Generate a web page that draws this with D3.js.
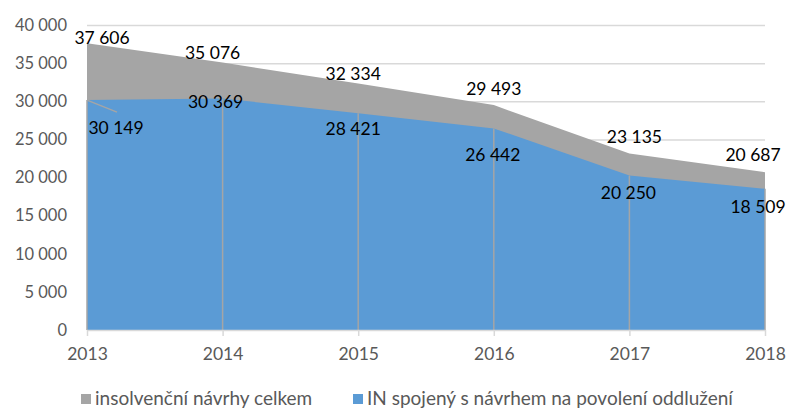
<!DOCTYPE html>
<html lang="cs">
<head>
<meta charset="utf-8">
<title>Insolvenční návrhy</title>
<script src="https://d3js.org/d3.v7.min.js"></script>
<style>
  body { margin: 0; background: #fff; }
  svg { display: block; font-family: Lato, "Open Sans", sans-serif; }
</style>
</head>
<body>
<div id="chart"></div>
<script>
// data
var years = ['2013', '2014', '2015', '2016', '2017', '2018'];
var celkem = [37606, 35076, 32334, 29493, 23135, 20687];
var oddluzeni = [30149, 30369, 28421, 26442, 20250, 18509];
var yTicks = [0, 5000, 10000, 15000, 20000, 25000, 30000, 35000, 40000];
var seriesNames = ['insolvenční návrhy celkem', 'IN spojený s návrhem na povolení oddlužení'];

// label nudges (px), to keep labels where the original put them
var totalNudge = [[15, -5], [-10, -10], [-5, -10], [0, -16], [5, -17], [-12, -17]];
var inNudge = [[29, 28], [-7, 3], [-5, 16], [-1, 26], [-1, 17], [-7, 18]];

var width = 787, height = 410;
var grey = '#a5a5a5', blue = '#5b9bd5';

var svg = d3.select('#chart').append('svg')
    .attr('width', width)
    .attr('height', height);

var x = d3.scalePoint().domain(years).range([87, 765]);
var y = d3.scaleLinear().domain([0, 40000]).range([330, 25]);

var fmt = function(v) { return d3.format(',')(v).replace(/,/g, '\u00a0'); };

// gridlines
svg.append('g').selectAll('line')
    .data(yTicks.slice(1))
    .enter().append('line')
    .attr('x1', 87).attr('x2', 765)
    .attr('y1', function(d) { return y(d) + 0.5; })
    .attr('y2', function(d) { return y(d) + 0.5; })
    .attr('stroke', '#d9d9d9')
    .attr('stroke-width', 1.5);

// y labels
svg.append('g').selectAll('text')
    .data(yTicks)
    .enter().append('text')
    .attr('x', 67)
    .attr('y', function(d) { return y(d); })
    .attr('dy', '0.35em')
    .attr('text-anchor', 'end')
    .attr('fill', '#595959')
    .style('font-size', '16.5px')
    .text(function(d) { return fmt(d); });

// areas
var area = function(vals) {
    return d3.area()
        .x(function(d, i) { return x(years[i]); })
        .y0(y(0))
        .y1(function(d) { return y(d); })(vals);
};
svg.append('path').attr('d', area(celkem)).attr('fill', grey);
svg.append('path').attr('d', area(oddluzeni)).attr('fill', blue);

// drop lines
svg.append('g').selectAll('line')
    .data(oddluzeni)
    .enter().append('line')
    .attr('x1', function(d, i) { return x(years[i]); })
    .attr('x2', function(d, i) { return x(years[i]); })
    .attr('y1', function(d) { return y(d); })
    .attr('y2', y(0))
    .attr('stroke', grey)
    .attr('stroke-width', 1.5);

// x axis
var xAxis = svg.append('g').attr('transform', 'translate(0,' + y(0) + ')')
    .call(d3.axisBottom(x).tickSize(6).tickPadding(12));
xAxis.select('.domain').attr('stroke', '#d9d9d9').attr('stroke-width', 1.5)
    .attr('d', 'M87,0.5H765');
xAxis.selectAll('.tick line').attr('stroke', '#d9d9d9').attr('stroke-width', 1.5);
xAxis.selectAll('.tick text')
    .attr('fill', '#595959')
    .style('font-size', '17.5px')
    .style('font-family', 'Lato, "Open Sans", sans-serif');

// leader line for first blue label
svg.append('line')
    .attr('x1', x(years[0])).attr('y1', y(oddluzeni[0]))
    .attr('x2', x(years[0]) + 30).attr('y2', y(oddluzeni[0]) + 12)
    .attr('stroke', grey)
    .attr('stroke-width', 1.5);

// data labels
function labels(vals, nudge) {
    svg.append('g').selectAll('text')
        .data(vals)
        .enter().append('text')
        .attr('x', function(d, i) { return x(years[i]) + nudge[i][0]; })
        .attr('y', function(d, i) { return y(d) + nudge[i][1]; })
        .attr('dy', '0.35em')
        .attr('text-anchor', 'middle')
        .attr('fill', '#000')
        .style('font-size', '17.5px')
        .text(function(d) { return fmt(d); });
}
labels(celkem, totalNudge);
labels(oddluzeni, inNudge);

// legend
var legend = svg.append('g');
var legendX = [81, 353];
[grey, blue].forEach(function(c, i) {
    legend.append('rect')
        .attr('x', legendX[i]).attr('y', 394)
        .attr('width', 10).attr('height', 10)
        .attr('fill', c);
    legend.append('text')
        .attr('x', legendX[i] + 14).attr('y', 398)
        .attr('dy', '0.35em')
        .attr('fill', '#595959')
        .style('font-size', '19px')
        .text(seriesNames[i]);
});
</script>
</body>
</html>
